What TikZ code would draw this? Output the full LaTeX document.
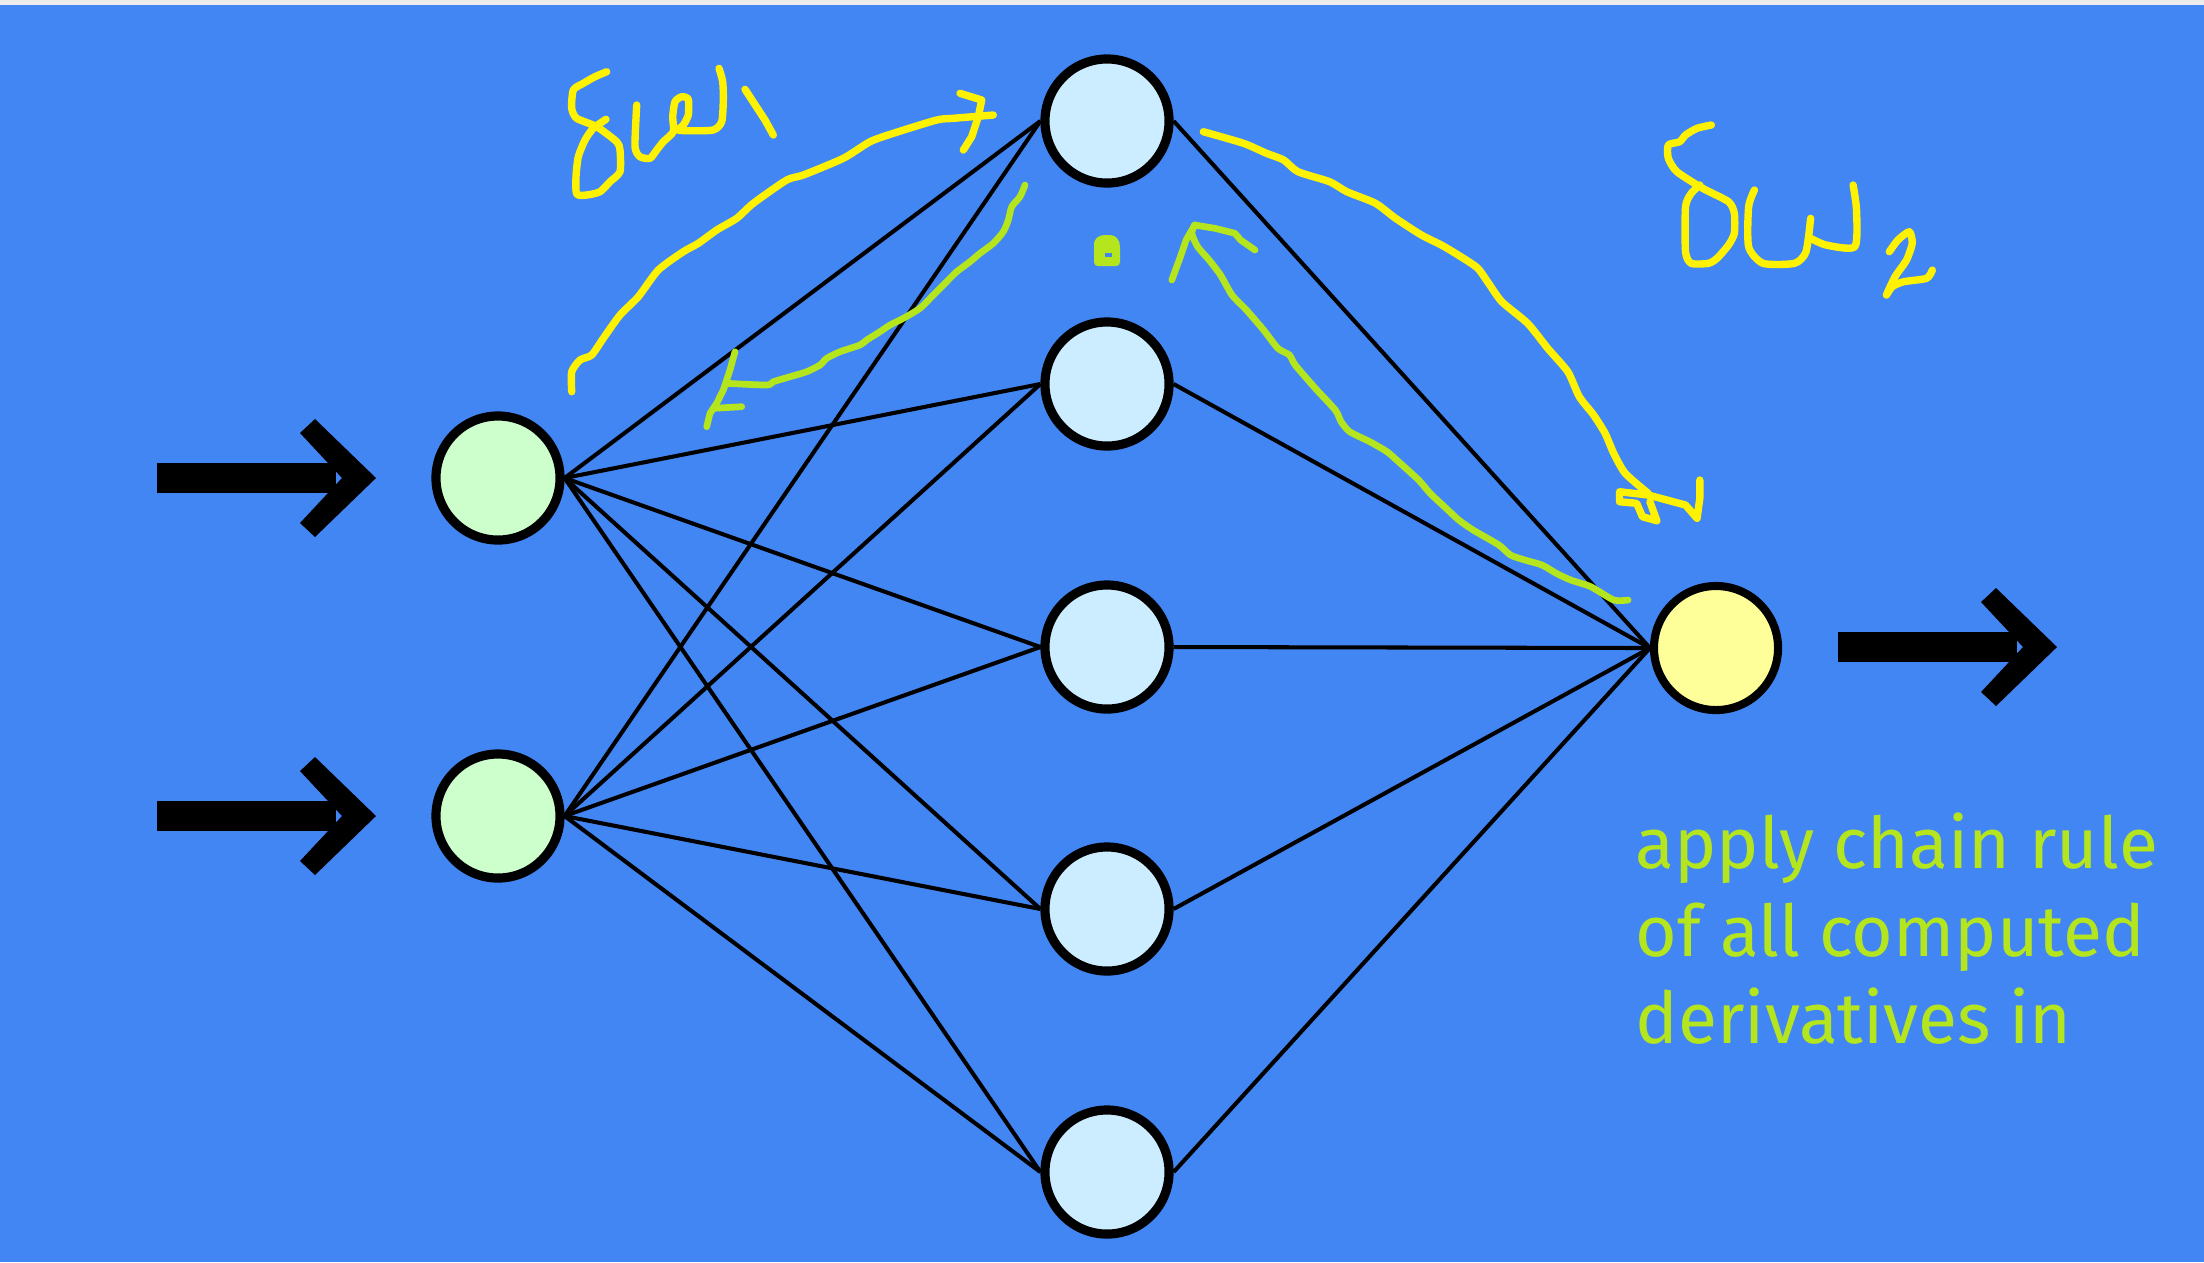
\documentclass[tikz,border=0pt]{standalone}
\usepackage{fontspec}
\newfontfamily\labelfont{Fira Sans}
\definecolor{bgblue}{RGB}{66,134,244}
\definecolor{topgray}{RGB}{236,236,236}
\definecolor{ingreen}{RGB}{204,255,204}
\definecolor{hidblue}{RGB}{204,236,255}
\definecolor{outyellow}{RGB}{255,255,153}
\definecolor{penyellow}{RGB}{255,242,0}
\definecolor{pengreen}{RGB}{181,230,29}
\begin{document}
\begin{tikzpicture}[x=0.01cm,y=-0.01cm,
  neuron/.style={circle, draw=black, line width=2.6pt, minimum size=1.24cm, inner sep=0pt},
  inode/.style={neuron, fill=ingreen},
  hnode/.style={neuron, fill=hidblue},
  onode/.style={neuron, fill=outyellow, line width=2.3pt},
  edge/.style={draw=black, line width=1.15pt},
  ypen/.style={draw=penyellow, line width=2.1pt, line cap=round, line join=round},
  gpen/.style={draw=pengreen, line width=1.9pt, line cap=round, line join=round},
  txt/.style={anchor=base west, inner sep=0pt, text=pengreen, font=\labelfont\fontsize{20.3}{25}\selectfont},
  bigarrow/.pic={
    \fill[black] (-219,-15) rectangle (-40,15);
    \fill[black] (0,0) -- (-61,-59) -- (-76,-45) -- (-34,0) -- (-76,45) -- (-61,59) -- cycle;
  }]
\useasboundingbox (0,0) rectangle (2204,1262);
\fill[bgblue] (0,0) rectangle (2204,1262);
\fill[topgray] (0,0) rectangle (2204,5);

% nodes
\node[inode] (i1) at (498,478) {};
\node[inode] (i2) at (498,816) {};
\node[hnode] (h1) at (1107,121) {};
\node[hnode] (h2) at (1107,384) {};
\node[hnode] (h3) at (1107,647) {};
\node[hnode] (h4) at (1107,909) {};
\node[hnode] (h5) at (1107,1172) {};
\node[onode] (o) at (1716,648) {};

% connectors
\foreach \a in {i1,i2}{
  \foreach \b in {h1,h2,h3,h4,h5}{
    \draw[edge] (\a.east) -- (\b.west);
  }
}
\foreach \b in {h1,h2,h3,h4,h5}{
  \draw[edge] (\b.east) -- (o.west);
}

% big arrows
\pic at (376,478) {bigarrow};
\pic at (376,816) {bigarrow};
\pic at (2057,647) {bigarrow};

% handwriting: delta w1
\draw[ypen] plot[smooth,tension=0.4] coordinates {(606.7,71.7) (595,76.7) (583.3,83.3) (573.3,90) (571.7,108.3) (576.7,118.3) (596.7,126.7) (616.7,141.7) (620,150) (620,171.7) (610,181.7) (600,191.7) (586.7,195) (576.7,194) (576,176.7) (578.3,156.7) (585,140) (593.3,128.3) (606,119.3)};
\draw[ypen] plot[smooth,tension=0.4] coordinates {(636.7,105) (635,146.7) (640,156.7) (650,158.3) (656.7,150) (663.3,141.7) (673.3,131.7) (672.7,116.7) (675,101.7) (681.7,96.7) (688.3,99.3) (688.3,115) (683.3,125) (678.3,130) (690,130.7) (713.3,130) (721.7,121.7) (723.3,100) (722.7,81.7) (719,68.3)};
\draw[ypen] (745,89.3) -- (765,120) -- (773.3,135);
% yellow arc 1
\draw[ypen] plot[smooth,tension=0.4] coordinates {(571.7,391.7) (571.7,371.7) (580,360) (591.7,355) (603.3,338.3) (620,315) (638.3,296.7) (658.3,270) (683.3,251.7) (698.3,243.3) (716.7,230) (736.7,218.3) (753.3,203.3) (786.7,180) (803.3,175) (843.3,158.3) (870,141.7) (893.3,133.3) (936.7,120) (953.3,118.3) (993.3,115)};
\draw[ypen] (960,93.3) -- (981.7,100) -- (978.3,116.7) -- (971.7,136.7) -- (963.3,150);

% green arrow left
\draw[gpen] plot[smooth,tension=0.4] coordinates {(1025,185) (1020,196.7) (1011.7,206.7) (1008.3,220) (1003.3,231.7) (993.3,243.3) (980,253.3) (970,261.7) (956.7,271.7) (943.3,285) (931.7,296.7) (920,308.3) (903.3,318.3) (890,325) (880,331.7) (866.7,340) (860,345) (840,351.7) (826.7,358.3) (820,365) (806.7,371.7) (790,376.7) (773.3,381.7) (766.7,385) (726.7,383.3)};
\draw[gpen] (735,351.7) -- (730,370) -- (723.3,390) -- (716.7,403.3) -- (710,413.3) -- (706.7,426.7);
\draw[gpen] (713.3,408.3) -- (741.7,406.7);

% green dot
\fill[pengreen] (1094,262) -- (1094,245) .. controls (1094,238) and (1099,235) .. (1105,235) -- (1110,235) .. controls (1116,235) and (1120,240) .. (1120,247) -- (1120,262) .. controls (1120,265) and (1118,266) .. (1116,266) -- (1098,266) .. controls (1096,266) and (1094,265) .. (1094,262) -- cycle;
\fill[bgblue] (1105,252.7) rectangle (1112,256.7);

% yellow arc 2
\draw[ypen] plot[smooth,tension=0.4] coordinates {(1203.3,131.7) (1243.5,143.3) (1266.5,153.3) (1283.7,160) (1298,171.7) (1329.6,181.7) (1346.8,191.7) (1375.5,203.3) (1395.6,218.3) (1421.4,235) (1444.4,246.7) (1476,266.7) (1487.5,281.7) (1501.8,301.7) (1527.6,323.3) (1547.7,348.3) (1567.8,371.7) (1579.3,396.7) (1593.6,415) (1605.1,433.3) (1613.7,453.3) (1625.2,473.3) (1648.2,493.3)};
\draw[ypen] (1648.2,495) -- (1685.5,505) -- (1697,518.3) -- (1699.8,498.3) -- (1699.8,480);
\draw[ypen] (1649.9,501.7) -- (1656.8,520.7) -- (1642.4,516.7) -- (1636.7,503.3) -- (1619.5,501.7) -- (1619.5,491.7) -- (1648.2,495);

% delta w2
\draw[ypen] plot[smooth,tension=0.4] coordinates {(1711.3,125) (1697,128.3) (1685.5,135) (1679.7,141.7) (1668.3,145) (1668.3,158.3) (1676.9,171.7) (1702.7,188.3) (1728.5,201.7) (1734.3,213.3) (1734.3,233.3) (1728.5,245) (1717,258.3) (1708.4,263.3) (1691.2,263.3) (1685.5,251.7) (1685.5,206.7) (1691.2,193.3) (1699.8,185)};
\draw[ypen] plot[smooth,tension=0.4] coordinates {(1754.4,190) (1748.6,206.7) (1748.6,246.7) (1763,263.3) (1794.5,263.3) (1806,251.7) (1810.6,218.3)};
\draw[ypen] plot[smooth,tension=0.4] coordinates {(1810.6,238.3) (1826.1,245) (1854.8,246.7) (1856.5,210) (1853.1,185)};
\draw[ypen] plot[smooth,tension=0.4] coordinates {(1889.3,251.7) (1897.9,240) (1909.3,231.7) (1912.2,243.3) (1906.5,260) (1895,276.7) (1886.4,295) (1892.1,286.7) (1903.6,281.7) (1926.6,278.3) (1932.3,270)};

% green arrow right
\draw[gpen] plot[smooth,tension=0.4] coordinates {(1628.1,600) (1613.7,600) (1590.8,586.7) (1570.7,580) (1556.3,573.3) (1542,565) (1524.8,560) (1510.4,555) (1498.9,545) (1473.1,530) (1458.8,520) (1444.4,506.7) (1430.1,493.3) (1418.6,480) (1398.5,461.7) (1387,451.7) (1369.8,441.7) (1349.7,431.7) (1341.1,421.7) (1335.3,410) (1315.3,388.3) (1295.2,365) (1289.4,355) (1277.9,348.3) (1263.6,330) (1246.4,310) (1232,295) (1220.5,275) (1209.1,260) (1197.6,246.7) (1191.8,233.3) (1194.7,225)};
\draw[gpen] (1194.7,225) -- (1214.8,228.3) -- (1234.9,233.3) -- (1240.6,240) -- (1255,250);
\draw[gpen] (1194.7,225) -- (1186.1,240) -- (1180.4,256.7) -- (1171.8,280);

% text
\node[txt] (t1) at (1635,868) {apply chain rule};
\node[txt] (t2) at (1635,956) {of all computed};
\node[txt] (t3) at (1635,1043) {derivatives in};
\end{tikzpicture}
\end{document}
